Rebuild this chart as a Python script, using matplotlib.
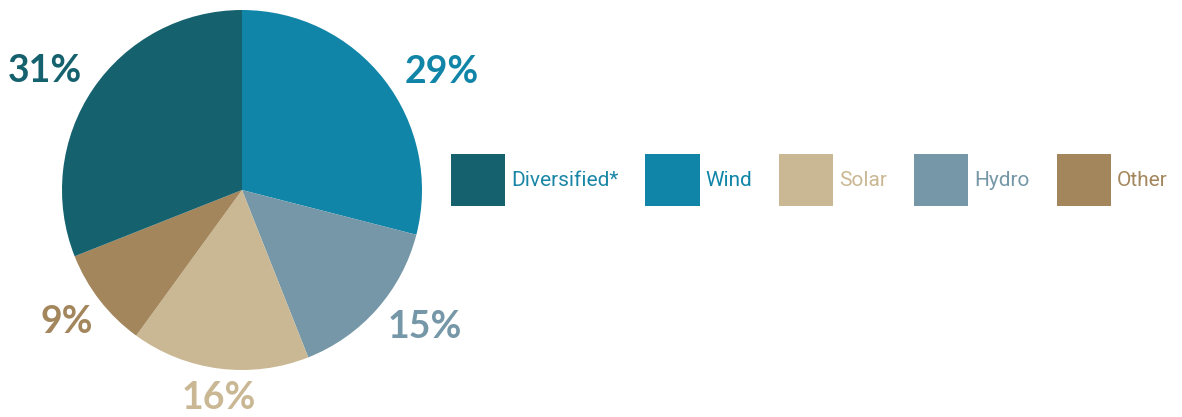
import numpy as np
import matplotlib
matplotlib.use("Agg")
import matplotlib.pyplot as plt
from matplotlib.patches import Patch

# slices, clockwise from 12 o'clock
slice_names = ['Wind', 'Hydro', 'Solar', 'Other', 'Diversified*']
slice_values = [29, 15, 16, 9, 31]
slice_colors = ['#1185a8', '#7597a7', '#cab894', '#a3865c', '#15616e']

# label placement tweaks (distance in radii, angle nudge in degrees)
label_dist = [1.29, 1.27, 1.16, 1.22, 1.28]
label_nudge = [-7.3, 4.6, 0.9, -0.7, 3.2]

# legend order
legend_names = ['Diversified*', 'Wind', 'Solar', 'Hydro', 'Other']
legend_colors = ['#15616e', '#1185a8', '#cab894', '#7597a7', '#a3865c']
legend_text_colors = ['#1a86a6', '#1185a8', '#cab894', '#7597a7', '#a3865c']

fig = plt.figure(figsize=(11.82, 4.17), dpi=100)
ax = fig.add_axes([62 / 1182, 47 / 417, 360 / 1182, 360 / 417])

wedges, texts = ax.pie(
    slice_values, colors=slice_colors, startangle=90, counterclock=False,
    wedgeprops=dict(linewidth=0), radius=1.0)

for w, v, c, d, n in zip(wedges, slice_values, slice_colors, label_dist, label_nudge):
    ang = np.deg2rad((w.theta1 + w.theta2) / 2 + n)
    ax.text(d * np.cos(ang), d * np.sin(ang), '%d%%' % v, color=c,
            fontsize=27, fontweight='bold', family='Lato',
            ha='center', va='center', clip_on=False)

ax.set_xlim(-1, 1)
ax.set_ylim(-1, 1)
ax.set_aspect('equal')

handles = [Patch(facecolor=c, edgecolor='none') for c in legend_colors]
leg = fig.legend(handles, legend_names, loc='center left',
                 bbox_to_anchor=(451 / 1182, 0.568), ncol=5, frameon=False,
                 prop={'family': 'Roboto', 'size': 15},
                 handlelength=2.6, handleheight=3.5, handletextpad=0.28,
                 columnspacing=1.3, borderpad=0, borderaxespad=0)
for t, c in zip(leg.get_texts(), legend_text_colors):
    t.set_color(c)

fig.savefig('out.png', dpi=100)
